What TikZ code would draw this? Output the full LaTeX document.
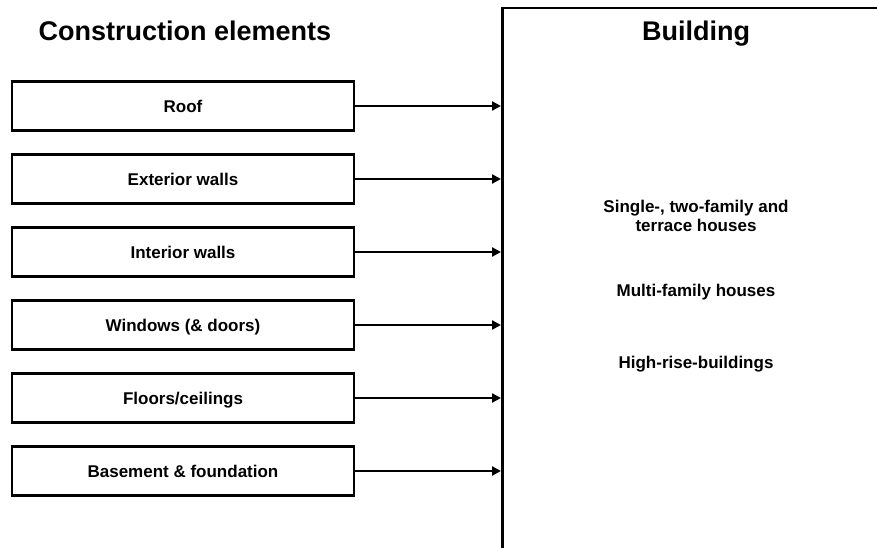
\documentclass[tikz,border=0pt]{standalone}
\usepackage{fontspec}
\setmainfont{Liberation Sans}
\usetikzlibrary{arrows.meta}
\begin{document}
\begin{tikzpicture}[x=1bp,y=-1bp,
  elem/.style={draw,line width=2.5bp,minimum width=342bp,minimum height=49bp,inner sep=0pt,
    text height=12.2bp,text depth=0pt,
    font=\fontsize{17bp}{19bp}\selectfont\bfseries},
  title/.style={font=\fontsize{27bp}{30bp}\selectfont\bfseries,inner sep=0pt,anchor=base},
  item/.style={font=\fontsize{17bp}{19bp}\selectfont\bfseries,align=center,inner sep=0pt},
  conn/.style={line width=2.5bp,-{Triangle[length=9bp,width=9bp]}}]
\useasboundingbox (0,0) rectangle (877,548);
\clip (0,0) rectangle (877,548);
\fill[white] (0,0) rectangle (877,548);
\node[draw,line width=2.5bp,minimum width=390bp,minimum height=570bp,inner sep=0pt,anchor=north west] (bldg) at (501,7) {};
\node[title] (t1) at (185,41) {Construction elements};
\node[title] (t2) at (696,41) {Building};
\node[elem] (roof) at (183,106) {Roof};
\node[elem] (ext) at (183,179) {Exterior walls};
\node[elem] (int) at (183,252) {Interior walls};
\node[elem] (win) at (183,325) {Windows (\& doors)};
\node[elem] (floor) at (183,398) {Floors/ceilings};
\node[elem] (base) at (183,471) {Basement \& foundation};
\foreach \n in {roof,ext,int,win,floor,base}
  \draw[conn] (\n.east) -- (\n.east -| bldg.west);
\node[item] (s1) at (696,216) {Single-, two-family and\\terrace houses};
\node[item] (s2) at (696,292) {Multi-family houses};
\node[item] (s3) at (696,364) {High-rise-buildings};
\end{tikzpicture}
\end{document}
